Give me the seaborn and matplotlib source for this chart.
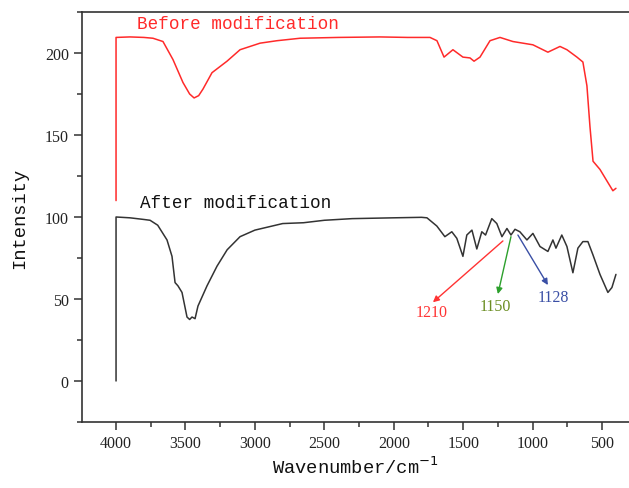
import matplotlib
matplotlib.use("Agg")
import matplotlib.pyplot as plt
import numpy as np
import pandas as pd
import seaborn as sns
from matplotlib.ticker import MultipleLocator

# spectrum before modification (wavenumber, intensity)
before_x = [4000, 4000, 3900, 3800, 3734, 3662, 3590, 3518, 3470, 3438, 3405, 3374,
            3309, 3201, 3107, 2963, 2841, 2675, 2400, 2100, 1900, 1739, 1689, 1638,
            1574, 1502, 1451, 1422, 1379, 1307, 1235, 1142, 998, 890, 803, 753,
            681, 638, 609, 587, 565, 515, 465, 422, 400]
before_y = [110, 209.5, 209.8, 209.5, 209, 207, 196, 182, 175, 172.6, 174, 178,
            188, 195, 202, 206, 207.5, 209, 209.5, 209.8, 209.5, 209.5, 207.5, 197.5,
            202, 197.5, 197, 195, 197.5, 207.5, 209.5, 207, 205, 200.5, 204, 202,
            197.5, 194.5, 180, 155, 134, 129, 122, 116, 117.5]

# spectrum after modification
after_x = [4000, 4000, 3900, 3800, 3755, 3700, 3633, 3597, 3575, 3554, 3525, 3489,
           3470, 3453, 3431, 3410, 3345, 3273, 3200, 3107, 3000, 2900, 2800, 2650,
           2500, 2300, 2000, 1800, 1761, 1690, 1632, 1582, 1546, 1502, 1474, 1437,
           1402, 1366, 1339, 1294, 1258, 1221, 1185, 1156, 1127, 1092, 1041, 998,
           947, 890, 854, 832, 790, 753, 710, 674, 638, 602, 566, 515, 458, 429, 400]
after_y = [0, 100, 99.5, 98.5, 98, 95, 86, 76, 60, 58, 54, 39,
           37.5, 39, 38, 45.7, 58, 70, 80, 88, 92, 94, 96, 96.5,
           98, 99, 99.5, 99.8, 99.5, 94.5, 88, 91, 87, 76, 89, 92,
           80.5, 91, 89, 99, 96, 88, 93, 89, 92.5, 91, 86, 90,
           82, 79, 86, 81, 89, 82, 66, 81, 85, 85, 77, 65, 54, 57, 65]

peak_labels = ["1210", "1150", "1128"]
peak_tips = [(1214, 85.4), (1156, 88), (1106, 89)]
peak_ends = [(1718, 48), (1250, 53), (890, 58.5)]
peak_text = [(1725, 42), (1271, 46), (854, 51)]
arrow_colors = ["#ff3333", "#2ca02c", "#3a4fa5"]
text_colors = ["#ff3333", "#6b8e23", "#3a4fa5"]

sns.set_theme(style="ticks")
plt.rcParams["font.family"] = ["Liberation Serif", "DejaVu Serif"]

fig = plt.figure(figsize=(6.29, 4.89), dpi=100)
ax = fig.add_axes([0.1304, 0.135, 0.8696, 0.8384])

before = pd.DataFrame({"x": before_x, "y": before_y})
after = pd.DataFrame({"x": after_x, "y": after_y})
sns.lineplot(data=before, x="x", y="y", sort=False, estimator=None,
             color="#ff2a2a", lw=1.1, ax=ax)
sns.lineplot(data=after, x="x", y="y", sort=False, estimator=None,
             color="#333333", lw=1.1, ax=ax)

ax.set_xlim(4245, 306)
ax.set_ylim(-25, 225)
ax.xaxis.set_major_locator(MultipleLocator(500))
ax.xaxis.set_minor_locator(MultipleLocator(250))
ax.yaxis.set_major_locator(MultipleLocator(50))
ax.yaxis.set_minor_locator(MultipleLocator(25))
ax.tick_params(which="major", length=6, width=1.1, color="#333333", labelsize=11.5,
               labelcolor="#222222")
ax.tick_params(which="minor", length=3.5, width=1.1, color="#333333")
ax.tick_params(top=False, right=False)
for side in ["left", "top", "bottom"]:
    ax.spines[side].set_linewidth(1.2)
    ax.spines[side].set_color("#333333")
ax.spines["right"].set_visible(False)

mono = ["Liberation Mono", "DejaVu Sans Mono"]
ax.set_xlabel("Wavenumber/cm$^{-1}$", family=mono, fontsize=13.5, color="#111111",
              labelpad=3)
ax.set_ylabel("Intensity", family=mono, fontsize=13.5, color="#111111", labelpad=12)

ax.text(3849, 217.7, "Before modification", family=mono, fontsize=12.7,
        color="#ff2a2a", va="center", ha="left")
ax.text(3827, 109, "After modification", family=mono, fontsize=12.7,
        color="#111111", va="center", ha="left")

for lab, tip, end, txt, ac, tc in zip(peak_labels, peak_tips, peak_ends, peak_text,
                                      arrow_colors, text_colors):
    ax.annotate("", xy=end, xytext=tip,
                arrowprops=dict(arrowstyle="-|>", color=ac, lw=1.0,
                                mutation_scale=9, shrinkA=0, shrinkB=0))
    ax.text(txt[0], txt[1], lab, color=tc, fontsize=11.5, ha="center", va="center")

fig.savefig("out.png", dpi=100)
